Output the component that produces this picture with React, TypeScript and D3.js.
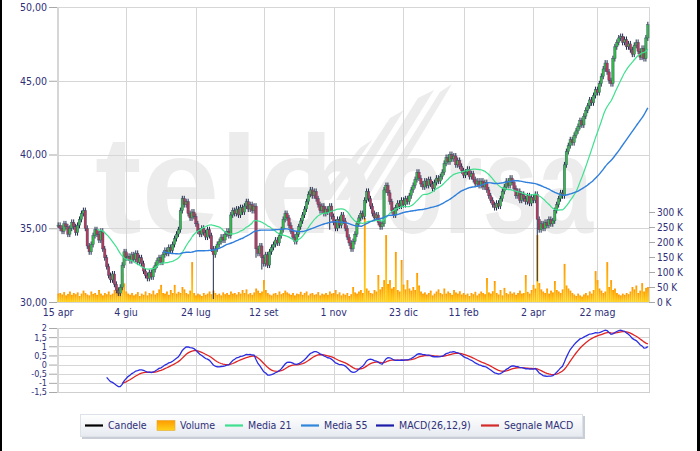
import React, { useRef, useEffect } from 'react';
import * as d3 from 'd3';

// daily closes, 15 apr 2013 -> end of june 2014
const closes = [
  35.2, 35.0, 34.8, 35.3, 35.1, 34.6, 35.0, 35.4, 35.1, 34.7, 35.2, 35.6,
  36.0, 36.2,
  35.0, 33.8, 33.4, 33.9,
  34.5, 34.9, 34.6, 34.2, 34.8,
  33.6, 33.0, 32.4, 31.8, 31.5, 31.9, 31.2,
  30.8, 30.6, 31.0,
  32.5, 33.4, 33.0,
  33.1, 32.8, 33.2, 32.9, 33.3, 32.7, 33.0, 32.6,
  32.1, 31.8, 31.6, 32.0, 31.7, 32.2, 32.5,
  32.8, 33.0, 32.7, 33.2, 33.5, 33.3, 33.7, 33.5, 33.9,
  34.3, 34.6, 34.9,
  36.2, 37.0, 36.6, 36.8,
  36.0, 35.7, 36.1, 35.8, 35.3,
  34.8, 34.6, 35.0, 34.7, 34.4, 34.9, 34.5,
  33.6, 33.2,
  33.6, 33.9, 34.1, 34.4, 34.2, 34.6, 34.8, 34.5,
  35.9, 36.2,
  36.0, 36.3, 35.9, 36.4, 36.1, 36.5, 36.8, 36.3, 36.6, 36.2, 36.5,
  33.6, 33.3,
  33.8, 33.0, 32.6, 33.2, 32.5,
  33.4, 33.7, 33.9, 34.2, 34.0, 34.5, 34.9,
  35.6, 36.0, 35.7, 35.2,
  34.8, 34.4, 34.1, 34.6,
  35.1, 35.5, 35.9, 36.3, 36.8,
  37.3, 37.6, 37.2, 37.5, 37.0,
  36.6, 36.2, 36.5, 36.0, 36.3,
  36.1, 36.5, 35.8, 35.4,
  35.0, 35.6, 35.2, 35.9, 35.5,
  35.0, 34.4, 34.0, 33.6, 34.1, 34.6,
  35.3, 35.7, 36.0, 35.8,
  36.9, 37.5, 37.0,
  36.5, 36.0, 35.7, 35.9, 35.4, 35.1, 35.3,
  37.6, 37.9, 37.4,
  36.8, 36.2, 35.9, 36.4, 36.7,
  36.5, 36.9, 36.6, 37.0, 36.8, 37.2,
  37.6, 37.9, 38.3, 38.8, 38.4,
  38.0, 37.8, 38.2, 37.9, 38.3, 38.0, 37.7, 38.1, 38.4, 38.2, 38.5, 38.8,
  39.4, 39.8, 39.5, 40.0, 39.7, 39.9, 39.3, 39.6, 39.2, 38.9, 38.6,
  38.8, 39.0, 38.5, 38.7, 38.3, 38.0, 38.2,
  37.9, 38.2, 37.8, 38.1, 37.6,
  37.2, 36.9, 36.6, 36.4, 36.7, 36.5, 37.0,
  37.5, 37.8, 38.2, 37.9, 38.4, 38.1, 37.7,
  37.2, 37.5, 36.9, 37.3, 37.0,
  36.8, 37.2, 36.7, 37.1, 36.9, 37.3,
  35.6, 34.9, 35.3, 35.0,
  35.4, 35.2, 35.6, 35.3, 35.5,
  36.2, 36.6, 37.0, 37.4, 37.2,
  39.3, 40.2,
  40.6, 41.0, 40.8, 41.3, 41.6,
  41.9, 42.3, 42.0, 42.6, 43.0,
  43.3, 43.7, 43.5, 44.0, 44.4, 44.2,
  44.8, 45.3, 45.8, 46.2, 45.6, 45.0, 44.8,
  46.5, 47.3, 47.6,
  47.9, 48.0, 47.6, 47.8, 47.3,
  47.5, 47.1, 46.8, 47.4, 47.6, 47.0, 46.6, 47.2, 46.5,
  47.9, 48.8,
];

// volume in thousands
const volumes = [
  28, 30, 25, 33, 22, 27, 35, 24, 30, 26,
  32, 20, 28, 38, 30, 25, 22, 35, 27, 30,
  24, 40, 28, 22, 30, 26, 35, 24, 28, 40,
  32, 45, 30, 97, 62, 35, 28, 24, 30, 22,
  26, 33, 20, 28, 24, 35, 22, 30, 26, 38,
  25, 30, 42, 57, 30, 28, 35, 24, 40, 30,
  57, 28, 34, 30, 50, 42, 30, 26, 38, 133,
  30, 22, 28, 25, 20, 30, 24, 28, 35, 26,
  38, 30, 24, 28, 22, 32, 26, 30, 24, 35,
  28, 30, 25, 33, 28, 40, 30, 42, 26, 30,
  24, 32, 45, 38, 30, 35, 73, 40, 30, 25,
  22, 28, 30, 24, 35, 26, 30, 38, 32, 28,
  24, 30, 22, 28, 26, 34, 24, 30, 35, 22,
  28, 30, 24, 26, 33, 22, 28, 25, 30, 24,
  35, 28, 30, 40, 26, 32, 22, 28, 24, 30,
  20, 26, 50, 32, 28, 35, 40, 30, 280, 45,
  38, 30, 28, 40, 35, 90, 42, 50, 73, 223,
  60, 73, 45, 50, 167, 40, 35, 140, 58, 42,
  73, 45, 38, 50, 40, 97, 55, 35, 28, 32,
  25, 30, 38, 22, 28, 35, 42, 30, 26, 45,
  28, 35, 30, 24, 40, 32, 28, 36, 25, 30,
  24, 28, 20, 30, 26, 34, 22, 28, 35, 30,
  26, 80, 32, 28, 36, 70, 30, 25, 40, 22,
  47, 30, 26, 35, 28, 32, 24, 30, 38, 28,
  30, 90, 34, 28, 40, 57, 45, 223, 63, 42,
  35, 30, 45, 28, 38, 32, 70, 40, 35, 30,
  42, 127, 55, 45, 38, 30, 25, 20, 28, 22,
  18, 25, 30, 22, 35, 28, 40, 103, 73, 45,
  38, 30, 35, 133, 50, 73, 40, 45, 30, 25,
  22, 28, 24, 30, 26, 35, 50, 42, 55, 30,
  38, 63, 35, 47, 50,
];

// [day index, low] for the long lower shadows
const lowSpikes: [number, number][] = [[80, 30.2], [102, 33.0], [105, 32.2], [140, 34.9], [247, 31.4]];

const startDate = '2013-04-15';
const holidays = ['2013-05-01', '2013-08-15', '2013-12-24', '2013-12-25', '2013-12-26', '2013-12-31',
  '2014-01-01', '2014-04-18', '2014-04-21', '2014-05-01'];
const tickLabels = ['15 apr', '4 giu', '24 lug', '12 set', '1 nov', '23 dic', '11 feb', '2 apr', '22 mag'];
const priceTicks = [30, 35, 40, 45, 50];
const volumeTicks = [0, 50, 100, 150, 200, 250, 300];
const macdTicks = [-1.5, -1, -0.5, 0, 0.5, 1, 1.5, 2];

const legendItems = [
  { label: 'Candele', color: '#000000', kind: 'line', x: 85 },
  { label: 'Volume', color: 'url(#volGrad)', kind: 'box', x: 157 },
  { label: 'Media 21', color: '#3ee08e', kind: 'line', x: 225 },
  { label: 'Media 55', color: '#2f86dc', kind: 'line', x: 301 },
  { label: 'MACD(26,12,9)', color: '#1c1ca8', kind: 'line', x: 376 },
  { label: 'Segnale MACD', color: '#d42a2a', kind: 'line', x: 481 },
];

const itLocale = d3.timeFormatLocale({
  dateTime: '%A %e %B %Y, %X', date: '%d/%m/%Y', time: '%H:%M:%S', periods: ['AM', 'PM'],
  days: ['Domenica', 'Lunedì', 'Martedì', 'Mercoledì', 'Giovedì', 'Venerdì', 'Sabato'],
  shortDays: ['Dom', 'Lun', 'Mar', 'Mer', 'Gio', 'Ven', 'Sab'],
  months: ['Gennaio', 'Febbraio', 'Marzo', 'Aprile', 'Maggio', 'Giugno', 'Luglio', 'Agosto', 'Settembre', 'Ottobre', 'Novembre', 'Dicembre'],
  shortMonths: ['gen', 'feb', 'mar', 'apr', 'mag', 'giu', 'lug', 'ago', 'set', 'ott', 'nov', 'dic'],
});

const FONT = '"DejaVu Sans Condensed", "DejaVu Sans", sans-serif';
const TEXT = '#2f2f78';
const MARK = '#ececec';

function ema(values: number[], n: number, start = 0): number[] {
  const out = values.map(() => NaN);
  const k = 2 / (n + 1);
  const first = start + n - 1;
  if (first >= values.length) return out;
  out[first] = d3.mean(values.slice(start, first + 1))!;
  for (let i = first + 1; i < values.length; i++) out[i] = values[i] * k + out[i - 1] * (1 - k);
  return out;
}

function sma(values: number[], n: number): number[] {
  return values.map((_, i) => (i < n - 1 ? NaN : d3.mean(values.slice(i - n + 1, i + 1))!));
}

const App: React.FC = () => {
  const svgRef = useRef<SVGSVGElement>(null);

  useEffect(() => {
    document.body.style.margin = '0';
    const svg = d3.select(svgRef.current);
    svg.selectAll('*').remove();

    const N = closes.length;
    const left = 57, right = 649;
    const top = 7, bottom = 302;
    const mTop = 328, mBottom = 392;

    // trading days
    const fmtIso = d3.utcFormat('%Y-%m-%d');
    const fmtLabel = itLocale.utcFormat('%-d %b');
    const dates: Date[] = [];
    let d = new Date(startDate + 'T00:00:00Z');
    while (dates.length < N) {
      const wd = d.getUTCDay();
      if (wd !== 0 && wd !== 6 && !holidays.includes(fmtIso(d))) dates.push(d);
      d = d3.utcDay.offset(d, 1);
    }
    // each label is searched after the previous one
    const tickIdx: number[] = [];
    let from = 0;
    tickLabels.forEach(l => {
      for (let i = from; i < N; i++) {
        if (fmtLabel(dates[i]) === l) { tickIdx.push(i); from = i + 1; break; }
      }
    });

    const x = d3.scaleBand<number>().domain(d3.range(N)).range([left, right]).padding(0.2);
    const cx = (i: number) => x(i)! + x.bandwidth() / 2;
    const y = d3.scaleLinear().domain([30, 50]).range([bottom, top]);
    const v = d3.scaleLinear().domain([0, 300]).range([bottom, 212]);
    const m = d3.scaleLinear().domain([-1.5, 2]).range([mBottom, mTop]);

    const defs = svg.append('defs');
    const vg = defs.append('linearGradient').attr('id', 'volGrad').attr('x1', 0).attr('y1', 0).attr('x2', 0).attr('y2', 1);
    vg.append('stop').attr('offset', '0%').attr('stop-color', '#ff9a00');
    vg.append('stop').attr('offset', '100%').attr('stop-color', '#ffd21a');
    const lg = defs.append('linearGradient').attr('id', 'legGrad').attr('x1', 0).attr('y1', 0).attr('x2', 0).attr('y2', 1);
    lg.append('stop').attr('offset', '0%').attr('stop-color', '#ffffff');
    lg.append('stop').attr('offset', '100%').attr('stop-color', '#e6eaf0');

    svg.append('rect').attr('width', 700).attr('height', 451).attr('fill', '#fff');

    // watermark
    const wm = svg.append('g').attr('fill', MARK).attr('font-family', '"Liberation Sans", Arial, sans-serif')
      .attr('font-weight', 'bold').attr('font-size', 140);
    wm.append('text').attr('x', 95).attr('y', 233).text('tele');
    wm.append('text').attr('x', 300).attr('y', 233).attr('textLength', 72).attr('lengthAdjust', 'spacingAndGlyphs').text('b');
    wm.append('text').attr('x', 383).attr('y', 233).attr('textLength', 210).attr('lengthAdjust', 'spacingAndGlyphs').text('orsa');
    const fan = [[318, 330, 360, 372, 140], [336, 348, 390, 404, 110], [354, 366, 418, 434, 90], [372, 382, 440, 452, 84]];
    wm.selectAll('polygon').data(fan).join('polygon')
      .attr('points', f => `${f[0]},200 ${f[1]},200 ${f[3]},${f[4]} ${f[2]},${f[4] + 8}`);

    // grids
    const grid = svg.append('g').attr('stroke', '#d6d6d6').attr('stroke-width', 1);
    grid.selectAll('.hp').data(priceTicks).join('line')
      .attr('x1', left).attr('x2', right).attr('y1', p => Math.round(y(p)) + 0.5).attr('y2', p => Math.round(y(p)) + 0.5);
    grid.selectAll('.vp').data(tickIdx).join('line')
      .attr('x1', i => Math.round(cx(i)) + 0.5).attr('x2', i => Math.round(cx(i)) + 0.5).attr('y1', top).attr('y2', bottom);
    grid.selectAll('.hm').data(macdTicks).join('line')
      .attr('x1', left).attr('x2', right).attr('y1', t => Math.round(m(t)) + 0.5).attr('y2', t => Math.round(m(t)) + 0.5);
    grid.selectAll('.vm').data(tickIdx).join('line')
      .attr('x1', i => Math.round(cx(i)) + 0.5).attr('x2', i => Math.round(cx(i)) + 0.5).attr('y1', mTop).attr('y2', mBottom);

    svg.append('line').attr('x1', left + 1).attr('x2', left + 1).attr('y1', top).attr('y2', bottom)
      .attr('stroke', '#d6d6d6').attr('stroke-width', 2);
    svg.append('line').attr('x1', right + 0.5).attr('x2', right + 0.5).attr('y1', top).attr('y2', bottom)
      .attr('stroke', '#d6d6d6');
    svg.append('rect').attr('x', left + 0.5).attr('y', mTop + 0.5).attr('width', right - left).attr('height', mBottom - mTop)
      .attr('fill', 'none').attr('stroke', '#cfcfcf');
    svg.append('line').attr('x1', left + 1).attr('x2', left + 1).attr('y1', mTop).attr('y2', mBottom)
      .attr('stroke', '#d6d6d6').attr('stroke-width', 2);

    // volume
    svg.append('g').selectAll('rect').data(volumes.slice(0, N)).join('rect')
      .attr('x', (_, i) => x(i)!)
      .attr('width', x.bandwidth() + 0.3)
      .attr('y', vol => v(vol))
      .attr('height', vol => bottom - v(vol))
      .attr('fill', 'url(#volGrad)');

    // candles
    const spikes = new Map(lowSpikes);
    const candles = closes.map((c, i) => {
      const o = i === 0 ? c : closes[i - 1];
      return {
        i, o, c,
        h: Math.max(o, c) + 0.2,
        l: spikes.get(i) ?? Math.min(o, c) - 0.2,
      };
    });
    const cg = svg.append('g');
    cg.selectAll('line').data(candles).join('line')
      .attr('x1', k => cx(k.i)).attr('x2', k => cx(k.i))
      .attr('y1', k => y(k.h)).attr('y2', k => y(k.l))
      .attr('stroke', '#1f2a48').attr('stroke-width', 1);
    cg.selectAll('rect').data(candles).join('rect')
      .attr('x', k => cx(k.i) - 1.2)
      .attr('width', 2.4)
      .attr('y', k => y(Math.max(k.o, k.c)))
      .attr('height', k => Math.max(1, Math.abs(y(k.o) - y(k.c))))
      .attr('fill', k => (k.c >= k.o ? '#36b84a' : '#b23a5c'))
      .attr('stroke', '#3a4766').attr('stroke-width', 0.4);

    // moving averages
    const ma21 = sma(closes, 21);
    const ma55 = sma(closes, 55);
    const priceLine = d3.line<number>().defined(p => !isNaN(p)).x((_, i) => cx(i)).y(p => y(p)).curve(d3.curveMonotoneX);
    svg.append('path').attr('d', priceLine(ma21)).attr('fill', 'none').attr('stroke', '#3ee08e').attr('stroke-width', 1.2);
    svg.append('path').attr('d', priceLine(ma55)).attr('fill', 'none').attr('stroke', '#2f7fdc').attr('stroke-width', 1.4);

    // MACD
    const e12 = ema(closes, 12);
    const e26 = ema(closes, 26);
    const macd = closes.map((_, i) => e12[i] - e26[i]);
    const firstMacd = macd.findIndex(p => !isNaN(p));
    const signal = ema(macd.map(p => (isNaN(p) ? 0 : p)), 9, firstMacd);
    const macdLine = d3.line<number>().defined(p => !isNaN(p)).x((_, i) => cx(i)).y(p => m(p));
    svg.append('path').attr('d', macdLine(signal)).attr('fill', 'none').attr('stroke', '#e02424').attr('stroke-width', 1.3);
    svg.append('path').attr('d', macdLine(macd)).attr('fill', 'none').attr('stroke', '#2a2ee0').attr('stroke-width', 1.3);

    // axes
    const styleAxis = (size: number) => (g: d3.Selection<SVGGElement, unknown, null, undefined>) => {
      g.select('.domain').remove();
      g.selectAll('line').attr('stroke', '#a8a8a8');
      g.selectAll('text').attr('fill', TEXT).attr('font-family', FONT).attr('font-size', size);
    };
    svg.append('g').attr('transform', `translate(${left},0)`)
      .call(d3.axisLeft(y).tickValues(priceTicks).tickSize(8).tickPadding(2)
        .tickFormat(p => (p as number).toFixed(2).replace('.', ',')))
      .call(styleAxis(10.5));
    svg.append('g').attr('transform', `translate(${right},0)`)
      .call(d3.axisRight(v).tickValues(volumeTicks).tickSize(6).tickPadding(2).tickFormat(k => `${k} K`))
      .call(styleAxis(10));
    svg.append('g').attr('transform', `translate(${left},0)`)
      .call(d3.axisLeft(m).tickValues(macdTicks).tickSize(8).tickPadding(2)
        .tickFormat(t => String(t).replace('.', ',')))
      .call(styleAxis(9));
    svg.append('g').attr('transform', `translate(0,${bottom})`)
      .call(d3.axisBottom(x).tickValues(tickIdx).tickSize(0).tickPadding(7).tickFormat(i => fmtLabel(dates[i as number])))
      .call(styleAxis(10.5));

    // legend
    const lgG = svg.append('g');
    lgG.append('rect').attr('x', 82).attr('y', 416).attr('width', 503).attr('height', 23).attr('fill', '#c9ced6');
    lgG.append('rect').attr('x', 80.5).attr('y', 414.5).attr('width', 502).attr('height', 22)
      .attr('fill', 'url(#legGrad)').attr('stroke', '#dde1e8');
    const items = lgG.selectAll('g').data(legendItems).join('g').attr('transform', it => `translate(${it.x},425.5)`);
    items.filter(it => it.kind === 'line').append('line')
      .attr('x1', 0).attr('x2', 18).attr('stroke', it => it.color).attr('stroke-width', 2.2);
    items.filter(it => it.kind === 'box').append('rect')
      .attr('x', 0).attr('y', -5).attr('width', 18).attr('height', 10)
      .attr('fill', it => it.color).attr('stroke', '#e0a020').attr('stroke-width', 0.5);
    items.append('text').attr('x', 23).attr('dy', '0.35em')
      .attr('font-family', FONT).attr('font-size', 10.5).attr('fill', TEXT)
      .text(it => it.label);

    // dark frame strips at the image edges
    svg.append('rect').attr('x', 0).attr('y', 0).attr('width', 2).attr('height', 451).attr('fill', '#000');
    svg.append('rect').attr('x', 697).attr('y', 0).attr('width', 3).attr('height', 451).attr('fill', '#000');
  }, []);

  return <svg ref={svgRef} width={700} height={451} style={{ display: 'block' }}></svg>;
};

export default App;
